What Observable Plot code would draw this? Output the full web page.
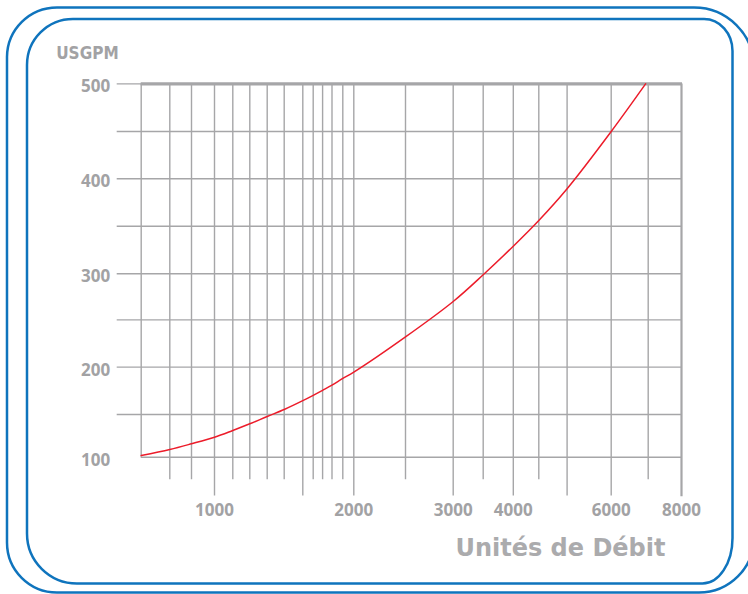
<!DOCTYPE html>
<html>
<head>
<meta charset="utf-8">
<script src="https://cdn.jsdelivr.net/npm/d3@7"></script>
<script src="https://cdn.jsdelivr.net/npm/@observablehq/plot@0.6"></script>
<style>
  html, body { margin: 0; padding: 0; background: #fff; overflow: hidden; }
  #wrap { position: relative; width: 748px; height: 594px; overflow: hidden; }
  #chart { position: absolute; left: 0; top: 0; }
  #frames { position: absolute; left: 0; top: 0; pointer-events: none; overflow: hidden; }
</style>
</head>
<body>
<div id="wrap">
  <div id="chart"></div>
  <svg id="frames" width="748" height="594" viewBox="0 0 748 594">
    <path fill="none" stroke="#0f74bd" stroke-width="2.5"
      d="M7,57 A50,50 0 0 1 57,7.5 L694,7.5 A60,60 0 0 1 754,67.5 L754,537.5 A55,55 0 0 1 699,592.5 L57,592.5 A50,50 0 0 1 7,542.5 Z"/>
    <path fill="none" stroke="#0f74bd" stroke-width="2.5"
      d="M27,65 A46,46 0 0 1 73,19 L704,19 A28.5,32 0 0 1 732.5,51 L732.5,538 A30,45.5 0 0 1 702.5,583.5 L77,583.5 A50,50 0 0 1 27,533.5 Z"/>
  </svg>
</div>
<script>
// ---- data ----
const gridX = [700, 800, 900, 1000, 1100, 1200, 1300, 1400, 1500, 1600, 1700, 1800, 1900, 2000, 2500, 3000, 3500, 4000, 4500, 5000, 6000, 7000, 8000];
const longTicks = [1000, 1500, 2000, 3000, 4000, 5000, 6000, 8000];
const shortTicks = [800, 900, 1100, 1200, 1300, 1400, 1600, 1700, 1800, 1900, 2500, 3500, 4500, 7000];
const xLabels = [1000, 2000, 3000, 4000, 6000, 8000];
const gridY = [100, 150, 200, 250, 300, 350, 400, 450, 500];
const yLabels = [100, 200, 300, 400, 500];
const flowX = [700, 800, 900, 1000, 1100, 1200, 1300, 1400, 1500, 1600, 1700, 1800, 1900, 2000, 2500, 3000, 3500, 4000, 4500, 5000, 6000, 6930];
const flowY = [102, 109, 115.7, 123.4, 131.3, 139.1, 147.7, 155.3, 164.6, 170.2, 175.5, 180.9, 188, 194.7, 232, 270, 299, 329, 356, 389.5, 450, 500];
const yTitle = "USGPM";
const xTitle = "Unités de Débit";

const curve = flowX.map((x, i) => ({x, y: flowY[i]}));

// ---- scale ranges (hand-drawn, non-uniform axis of the original) ----
const xRangePx = [140.7, 169.3, 191, 214, 232.3, 249.3, 266.7, 283.7, 302.3, 312.7, 322.1, 331.5, 342.3, 353.3, 405, 452.7, 482.7, 512.8, 538.3, 566.6, 610.7, 647.7, 681];
const yRangePx = [456.7, 414, 366.6, 319.4, 273.3, 225.7, 178.3, 131, 83.4];

const gray = "#a6a6a8";
const labelGray = "#a2a2a4";
const numFont = "'Open Sans', sans-serif";

const chart = Plot.plot({
  width: 748,
  height: 594,
  margin: 0,
  style: {background: "transparent"},
  x: {type: "linear", domain: gridX, range: xRangePx, axis: null},
  y: {type: "linear", domain: gridY, range: yRangePx, axis: null},
  marks: [
    Plot.ruleY(gridY.filter(d => d !== 100 && d !== 500), {y: d => d, x1: 700, x2: 8000, insetLeft: -24, stroke: gray, strokeWidth: 1.4}),
    Plot.ruleY([100], {y: d => d, x1: 700, x2: 8000, stroke: gray, strokeWidth: 1.4}),
    Plot.ruleX([700], {x: d => d, y1: 500, y2: 100, stroke: gray, strokeWidth: 1.4}),
    Plot.ruleX(shortTicks, {x: d => d, y1: 500, y2: 100, insetBottom: -22.6, stroke: gray, strokeWidth: 1.4}),
    Plot.ruleX(longTicks.filter(d => d !== 8000), {x: d => d, y1: 500, y2: 100, insetBottom: -38.8, stroke: gray, strokeWidth: 1.4}),
    Plot.ruleX([8000], {x: d => d, y1: 500, y2: 100, insetBottom: -39.5, stroke: gray, strokeWidth: 2.2}),
    Plot.ruleY([500], {y: d => d, x1: 700, x2: 8000, insetLeft: -24, insetRight: -1, stroke: gray, strokeWidth: 1.4}),
    Plot.ruleY([500], {y: d => d, x1: 700, x2: 8000, insetRight: -1, stroke: gray, strokeWidth: 3.2}),
    Plot.line(curve, {x: "x", y: "y", stroke: "#ec1c2a", strokeWidth: 1.5, curve: "catmull-rom"}),
    Plot.text(yLabels, {x: 700, y: d => d, text: d => String(d), textAnchor: "end", dx: -31, dy: 3,
      fill: labelGray, fontSize: 17, fontWeight: 700, fontFamily: numFont, letterSpacing: "-0.6px"}),
    Plot.text(xLabels, {x: d => d, y: 100, text: d => String(d), lineAnchor: "bottom", dy: 59,
      fill: labelGray, fontSize: 17, fontWeight: 700, fontFamily: numFont, letterSpacing: "-0.6px"}),
    Plot.text([yTitle], {x: 700, y: 500, text: d => d, textAnchor: "start", lineAnchor: "bottom", dx: -85, dy: -25,
      fill: labelGray, fontSize: 17, fontWeight: 700, fontFamily: "'Liberation Sans Narrow', 'DejaVu Sans Condensed', sans-serif", letterSpacing: "-0.6px"}),
    Plot.text([xTitle], {x: 8000, y: 100, text: d => d, textAnchor: "end", lineAnchor: "bottom", dx: -16, dy: 98.5,
      fill: "#ababad", fontSize: 24, fontWeight: 700, fontFamily: "'DejaVu Sans', sans-serif"})
  ]
});
document.getElementById("chart").appendChild(chart);
</script>
</body>
</html>
